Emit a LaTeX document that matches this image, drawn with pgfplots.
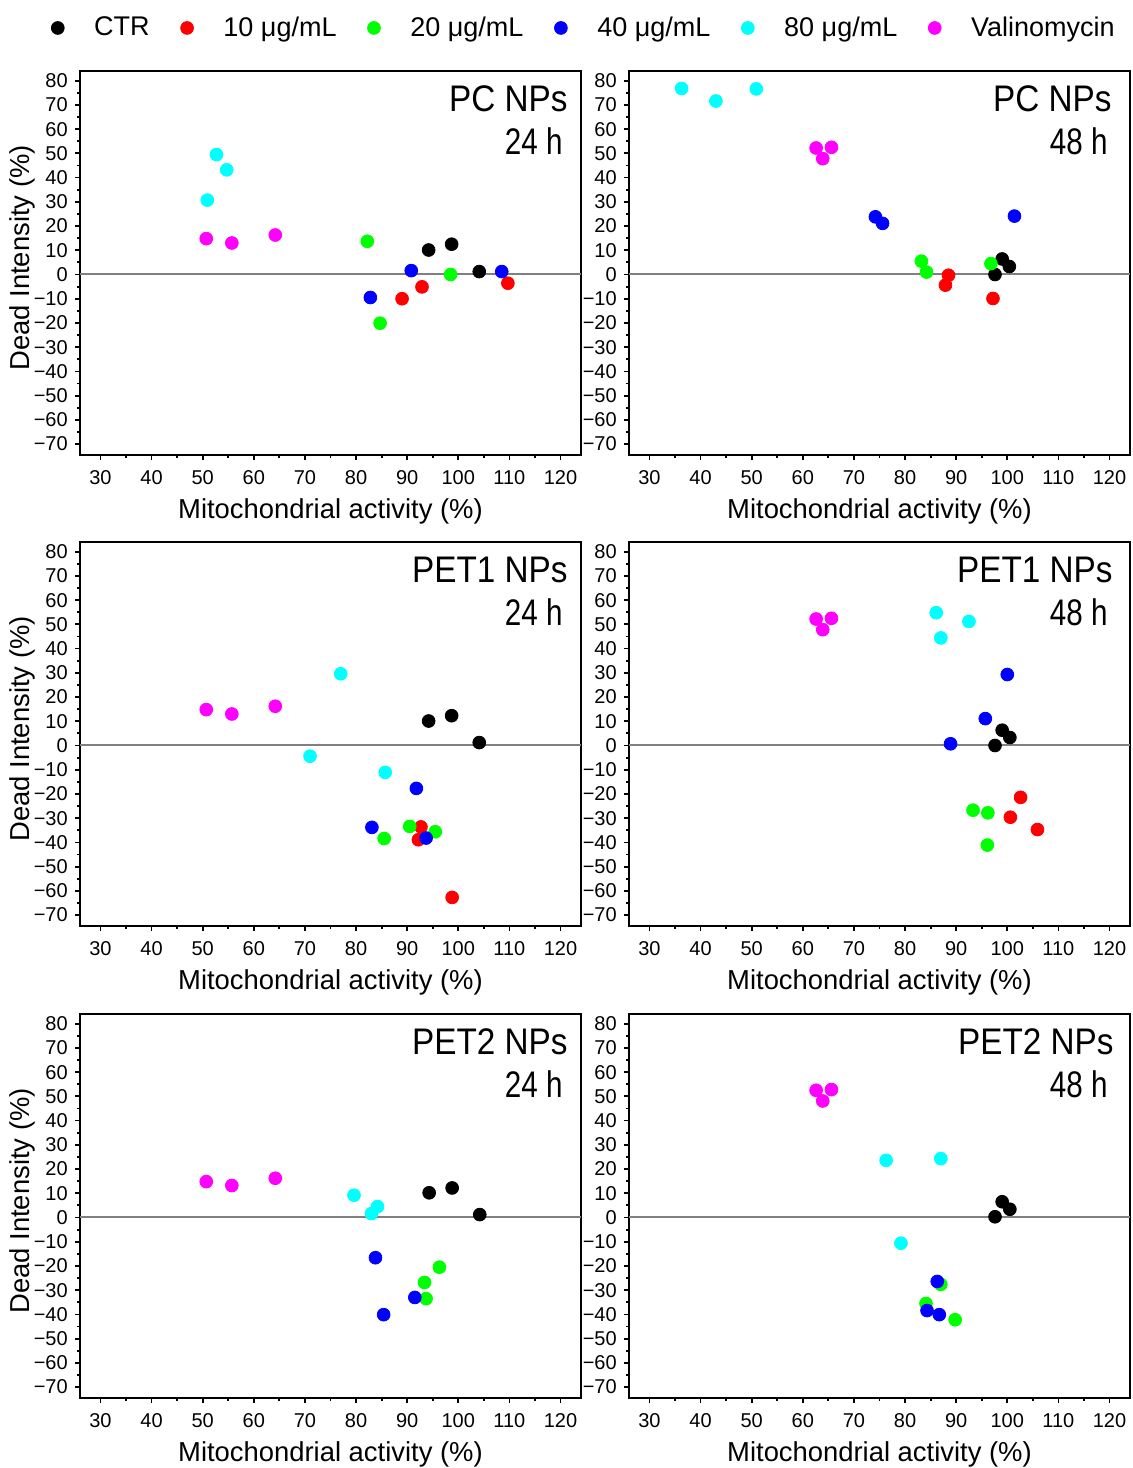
\documentclass[border=0pt]{standalone}
\usepackage{pgfplots}
\pgfplotsset{compat=1.18}
\usepackage{fontspec}
\setmainfont{Liberation Sans}

\definecolor{cRed}{RGB}{255,0,0}
\definecolor{cGreen}{RGB}{0,255,0}
\definecolor{cBlue}{RGB}{0,0,255}
\definecolor{cCyan}{RGB}{0,255,255}
\definecolor{cMag}{RGB}{255,0,255}
\definecolor{zeroline}{RGB}{128,128,128}

\pgfplotsset{
  dot/.style={only marks, mark=*, mark size=3.2pt, color=#1},
  ctr/.style={dot=black},
  c10/.style={dot=cRed},
  c20/.style={dot=cGreen},
  c40/.style={dot=cBlue},
  c80/.style={dot=cCyan},
  val/.style={dot=cMag},
  panel/.style={
    scale only axis, width=250.5pt, height=192pt, anchor=south west,
    xmin=26, xmax=124, ymin=-74.5, ymax=84,
    xtick={30,40,50,60,70,80,90,100,110,120},
    xticklabels={30,40,50,60,70,80,90,100,110,120},
    ytick={-70,-60,-50,-40,-30,-20,-10,0,10,20,30,40,50,60,70,80},
    yticklabels={−70,−60,−50,−40,−30,−20,−10,0,10,20,30,40,50,60,70,80},
    minor x tick num=1, minor y tick num=1,
    tick align=outside, xtick pos=bottom, ytick pos=left,
    major tick length=2.6pt, minor tick length=1.6pt,
    axis line style={line width=1pt},
    every tick/.style={black, line width=0.9pt},
    tick label style={font=\fontsize{10}{12}\selectfont},
    xticklabel style={yshift=-1.5pt},
    label style={font=\fontsize{13.7}{16}\selectfont},
    xlabel={Mitochondrial activity (\%)},
    xlabel style={at={(axis description cs:0.5,-0.148)}, anchor=center},
    ylabel style={at={(axis description cs:-0.1158,0.513)}, anchor=center},
  },
}

% panel caption: material, time, right insets
\newcommand{\paneltitle}[4]{%
  \node[anchor=base east, inner sep=0pt, font=\fontsize{18.5}{20}\selectfont]
    at (rel axis cs:1,1) [xshift=-#3, yshift=-20.5pt] {\scalebox{0.9}[1]{#1}};
  \node[anchor=base east, inner sep=0pt, font=\fontsize{18.5}{20}\selectfont]
    at (rel axis cs:1,1) [xshift=-#4, yshift=-42pt] {\scalebox{0.8}[1]{#2}};
}
\newcommand{\zeroline}{\addplot[forget plot, zeroline, line width=1pt] coordinates {(26,0) (124,0)};}

\begin{document}
\begin{tikzpicture}
\useasboundingbox (0,0) rectangle (566pt,734pt);

% ---------- PC NPs, 24 h ----------
\begin{axis}[panel, at={(40pt,506.5pt)}, ylabel={Dead Intensity (\%)},
  legend columns=6,
  legend image code/.code={\draw[mark repeat=2,mark phase=2,#1]
    plot coordinates {(0pt,0pt) (6pt,0pt) (12pt,0pt)};},
  legend style={draw=none, fill=none, inner sep=0pt,
    at={(-0.0579,1.1120)}, anchor=west,
    font=\fontsize{13.5}{15}\selectfont,
    nodes={inner sep=0pt},
    /tikz/every odd column/.style={column sep=15pt},
    /tikz/every even column/.style={column sep=15.5pt}},
]
\zeroline
\addplot[ctr] coordinates {(94.2,10.1) (98.7,12.5) (104.1,1.2)};
\addlegendentry{CTR}
\addplot[c10] coordinates {(92.9,-5.1) (89.0,-10.0) (109.7,-3.6)};
\addlegendentry{10 μg/mL}
\addplot[c20] coordinates {(82.2,13.7) (98.5,0.0) (84.7,-20.1)};
\addlegendentry{20 μg/mL}
\addplot[c40] coordinates {(90.8,1.6) (108.5,1.2) (82.8,-9.5)};
\addlegendentry{40 μg/mL}
\addplot[c80] coordinates {(52.7,49.5) (54.7,43.2) (50.9,30.7)};
\addlegendentry{80 μg/mL}
\addplot[val] coordinates {(50.7,14.8) (55.7,13.0) (64.2,16.3)};
\addlegendentry{Valinomycin}
\paneltitle{PC NPs}{24 h}{6.5pt}{9pt}
\end{axis}

% ---------- PC NPs, 48 h ----------
\begin{axis}[panel, at={(314.5pt,506.5pt)}]
\zeroline
\addplot[ctr] coordinates {(99.0,6.4) (100.4,3.3) (97.6,0.0)};
\addplot[c10] coordinates {(88.5,-0.3) (87.9,-4.4) (97.2,-9.9)};
\addplot[c20] coordinates {(83.2,5.5) (84.2,1.0) (96.8,4.5)};
\addplot[c40] coordinates {(74.2,23.8) (75.6,21.1) (101.4,24.1)};
\addplot[c80] coordinates {(36.3,76.8) (43.0,71.6) (50.9,76.6)};
\addplot[val] coordinates {(62.6,52.2) (65.6,52.5) (63.9,47.8)};
\paneltitle{PC NPs}{48 h}{9pt}{11pt}
\end{axis}

% ---------- PET1 NPs, 24 h ----------
\begin{axis}[panel, at={(40pt,271pt)}, ylabel={Dead Intensity (\%)}]
\zeroline
\addplot[ctr] coordinates {(94.2,10.1) (98.7,12.3) (104.1,1.2)};
\addplot[c10] coordinates {(92.7,-33.6) (92.2,-38.9) (98.8,-62.7)};
\addplot[c20] coordinates {(90.5,-33.4) (85.5,-38.4) (95.5,-35.6)};
\addplot[c40] coordinates {(91.8,-17.7) (83.1,-33.8) (93.7,-38.2)};
\addplot[c80] coordinates {(77.0,29.6) (71.0,-4.4) (85.7,-11.1)};
\addplot[val] coordinates {(50.7,14.8) (55.7,13.0) (64.2,16.2)};
\paneltitle{PET1 NPs}{24 h}{6.5pt}{9pt}
\end{axis}

% ---------- PET1 NPs, 48 h ----------
\begin{axis}[panel, at={(314.5pt,271pt)}]
\zeroline
\addplot[ctr] coordinates {(99.0,6.3) (100.5,3.3) (97.6,0.0)};
\addplot[c10] coordinates {(102.6,-21.4) (100.6,-29.6) (105.9,-34.7)};
\addplot[c20] coordinates {(93.3,-26.7) (96.2,-27.8) (96.1,-41.1)};
\addplot[c40] coordinates {(100.0,29.3) (95.7,11.1) (88.9,0.7)};
\addplot[c80] coordinates {(86.1,54.8) (87.0,44.4) (92.5,51.2)};
\addplot[val] coordinates {(62.6,52.2) (65.6,52.5) (63.9,47.8)};
\paneltitle{PET1 NPs}{48 h}{8.5pt}{11pt}
\end{axis}

% ---------- PET2 NPs, 24 h ----------
\begin{axis}[panel, at={(40pt,35pt)}, ylabel={Dead Intensity (\%)}]
\zeroline
\addplot[ctr] coordinates {(94.3,10.2) (98.8,12.2) (104.2,1.2)};
\addplot[c20] coordinates {(96.3,-20.5) (93.4,-26.8) (93.7,-33.5)};
\addplot[c40] coordinates {(83.8,-16.6) (91.5,-33.0) (85.4,-40.1)};
\addplot[c80] coordinates {(79.6,9.2) (84.2,4.5) (83.0,1.6)};
\addplot[val] coordinates {(50.7,14.8) (55.7,13.2) (64.2,16.2)};
\paneltitle{PET2 NPs}{24 h}{6.5pt}{9pt}
\end{axis}

% ---------- PET2 NPs, 48 h ----------
\begin{axis}[panel, at={(314.5pt,35pt)}]
\zeroline
\addplot[ctr] coordinates {(99.0,6.5) (100.5,3.4) (97.6,0.3)};
\addplot[c20] coordinates {(87.0,-27.6) (84.1,-35.5) (89.8,-42.2)};
\addplot[c40] coordinates {(86.3,-26.4) (84.3,-38.4) (86.7,-40.1)};
\addplot[c80] coordinates {(76.3,23.6) (87.0,24.3) (79.2,-10.6)};
\addplot[val] coordinates {(62.6,52.5) (65.6,52.8) (63.9,48.1)};
\paneltitle{PET2 NPs}{48 h}{8pt}{11pt}
\end{axis}
\end{tikzpicture}
\end{document}
